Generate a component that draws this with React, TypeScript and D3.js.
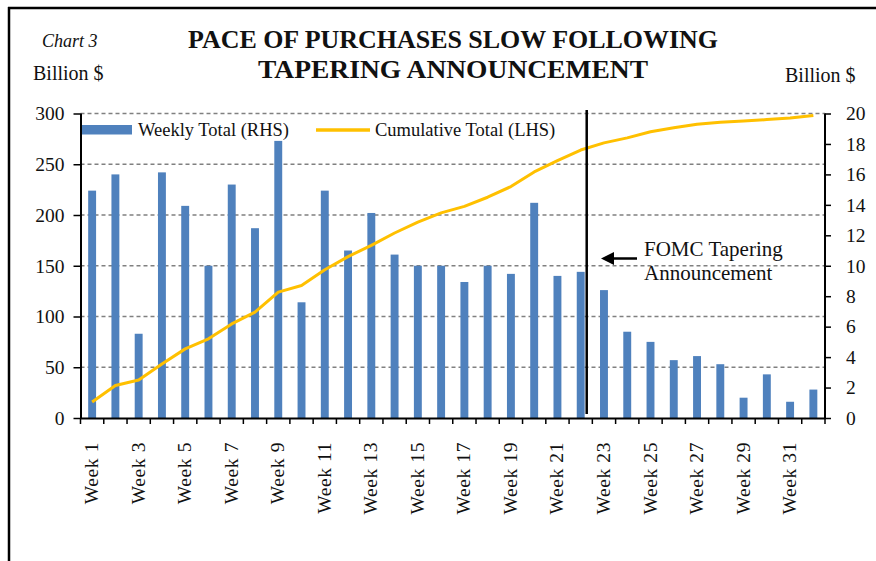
import React, { useEffect, useRef } from "react";
import * as d3 from "d3";

// weekly purchases (left axis 0-300), cumulative (right axis 0-20)
const weeks = d3.range(1, 33).map((i) => "Week " + i);
const weeklyTotal = [224, 240, 83, 242, 209, 150, 230, 187, 273, 114, 224, 165, 202, 161, 150, 150,
    134, 150, 142, 212, 140, 144, 126, 85, 75, 57, 61, 53, 20, 43, 16, 28];
const cumulativeTotal = [1.05, 2.13, 2.5, 3.55, 4.54, 5.2, 6.18, 6.95, 8.27, 8.7, 9.74, 10.6, 11.34, 12.15, 12.87, 13.47,
    13.9, 14.5, 15.2, 16.16, 16.9, 17.6, 18.07, 18.4, 18.8, 19.06, 19.3, 19.43, 19.5, 19.6, 19.7, 19.87];
const leftTicks = [0, 50, 100, 150, 200, 250, 300];
const rightTicks = [0, 2, 4, 6, 8, 10, 12, 14, 16, 18, 20];
const announcementWeek = "Week 22";

const FONT = "'Liberation Serif', 'Times New Roman', serif";

export default function App() {
    const ref = useRef<SVGSVGElement>(null);

    useEffect(() => {
        const svg = d3.select(ref.current);
        svg.selectAll("*").remove();

        const left = 80.5, right = 825, top = 113.5, bottom = 418;

        const x = d3.scaleBand().domain(weeks).range([left, right]).paddingInner(0.66).paddingOuter(0.33);
        const xb = d3.scaleBand().domain(weeks).range([left, right]);
        const yL = d3.scaleLinear().domain([0, 300]).range([bottom, top]);
        const yR = d3.scaleLinear().domain([0, 20]).range([bottom, top]);

        // frame lines
        svg.append("line").attr("x1", 8).attr("y1", 8).attr("x2", 876).attr("y2", 8)
            .style("stroke", "#000").style("stroke-width", 2.5);
        svg.append("line").attr("x1", 9).attr("y1", 7).attr("x2", 9).attr("y2", 561)
            .style("stroke", "#000").style("stroke-width", 2.5);

        // gridlines
        svg.selectAll(".grid")
            .data(leftTicks.filter((d) => d > 0))
            .enter()
            .append("line")
                .attr("x1", left).attr("x2", right)
                .attr("y1", (d) => yL(d)).attr("y2", (d) => yL(d))
                .style("stroke", "#808080")
                .style("stroke-width", 1.5)
                .style("stroke-dasharray", "4, 3");

        // bars
        svg.selectAll(".bar")
            .data(weeklyTotal)
            .enter()
            .append("rect")
                .attr("x", (d, i) => x(weeks[i])!)
                .attr("y", (d) => yL(d))
                .attr("width", x.bandwidth())
                .attr("height", (d) => bottom - yL(d))
                .style("fill", "#4f81bd");

        // cumulative line
        const line = d3.line<number>()
            .x((d, i) => xb(weeks[i])! + xb.bandwidth() / 2)
            .y((d) => yR(d));
        svg.append("path")
            .datum(cumulativeTotal)
            .attr("d", line)
            .style("fill", "none")
            .style("stroke", "#ffc000")
            .style("stroke-width", 3)
            .style("stroke-linejoin", "round");

        // axes
        const axL = svg.append("g").attr("transform", `translate(${left},0)`)
            .call(d3.axisLeft(yL).tickValues(leftTicks).tickSize(7).tickPadding(9));
        const axR = svg.append("g").attr("transform", `translate(${right},0)`)
            .call(d3.axisRight(yR).tickValues(rightTicks).tickSize(6).tickPadding(15));
        const axB = svg.append("g").attr("transform", `translate(0,${bottom})`)
            .call(d3.axisBottom(xb).tickValues([]).tickSize(0));
        // x tick marks at category boundaries
        svg.selectAll(".xtick")
            .data(d3.range(0, weeks.length + 1))
            .enter()
            .append("line")
                .attr("x1", (d) => left + d * xb.step()).attr("x2", (d) => left + d * xb.step())
                .attr("y1", bottom).attr("y2", bottom + 6)
                .style("stroke", "#000").style("stroke-width", 1.5);

        [axL, axR, axB].forEach((g) => {
            g.selectAll("path").style("stroke", "#000").style("stroke-width", 2);
            g.selectAll("line").style("stroke", "#000").style("stroke-width", 1.5);
            g.selectAll("text").style("font-family", FONT).style("font-size", "19.5px").style("fill", "#111");
        });
        axL.select(".domain").attr("d", `M0.5,${top}V${bottom}`);
        axR.select(".domain").attr("d", `M0,${top}V${bottom}`);

        // x labels (odd weeks)
        svg.selectAll(".xlab")
            .data(weeks.filter((d, i) => i % 2 === 0))
            .enter()
            .append("text")
                .attr("transform", (d) => `translate(${xb(d)! + xb.bandwidth() / 2 + 6},${bottom + 24}) rotate(-90)`)
                .attr("text-anchor", "end")
                .style("font-family", FONT)
                .style("font-size", "19.5px")
                .style("letter-spacing", "0.6px")
                .style("fill", "#111")
                .text((d) => d);

        // announcement marker
        const ax = xb(announcementWeek)! + xb.bandwidth() / 2 + 6;
        svg.append("line").attr("x1", ax).attr("x2", ax).attr("y1", 110).attr("y2", 414)
            .style("stroke", "#000").style("stroke-width", 2.5);
        svg.append("line").attr("x1", 637).attr("x2", 610).attr("y1", 258.5).attr("y2", 258.5)
            .style("stroke", "#000").style("stroke-width", 2.5);
        svg.append("path").attr("d", "M601,258.5 L614,252 L614,265 Z").style("fill", "#000");
        svg.append("text").attr("x", 644).attr("y", 256)
            .style("font-family", FONT).style("font-size", "21px").style("fill", "#111")
            .text("FOMC Tapering");
        svg.append("text").attr("x", 644).attr("y", 280)
            .style("font-family", FONT).style("font-size", "21px").style("fill", "#111")
            .text("Announcement");

        // legend
        svg.append("rect").attr("x", 82).attr("y", 125).attr("width", 50).attr("height", 9.5)
            .style("fill", "#4f81bd");
        svg.append("text").attr("x", 138).attr("y", 136)
            .style("font-family", FONT).style("font-size", "18.5px").style("fill", "#111")
            .text("Weekly Total (RHS)");
        svg.append("line").attr("x1", 316).attr("x2", 370).attr("y1", 130).attr("y2", 130)
            .style("stroke", "#ffc000").style("stroke-width", 3.5);
        svg.append("text").attr("x", 375).attr("y", 136)
            .style("font-family", FONT).style("font-size", "18.5px").style("fill", "#111")
            .text("Cumulative Total (LHS)");

        // titles
        svg.append("text").attr("x", 42).attr("y", 47)
            .style("font-family", FONT).style("font-size", "18px").style("font-style", "italic").style("fill", "#111")
            .text("Chart 3");
        svg.append("text").attr("x", 33).attr("y", 80)
            .style("font-family", FONT).style("font-size", "20px").style("fill", "#111")
            .text("Billion $");
        svg.append("text").attr("x", 785).attr("y", 82)
            .style("font-family", FONT).style("font-size", "20px").style("fill", "#111")
            .text("Billion $");
        svg.append("text").attr("x", 188).attr("y", 48)
            .attr("textLength", 530).attr("lengthAdjust", "spacingAndGlyphs")
            .style("font-family", FONT).style("font-size", "25px").style("font-weight", "bold").style("fill", "#111")
            .text("PACE OF PURCHASES SLOW FOLLOWING");
        svg.append("text").attr("x", 258).attr("y", 78)
            .attr("textLength", 390).attr("lengthAdjust", "spacingAndGlyphs")
            .style("font-family", FONT).style("font-size", "25px").style("font-weight", "bold").style("fill", "#111")
            .text("TAPERING ANNOUNCEMENT");
    }, []);

    return (
        <svg ref={ref} width={876} height={561}
            style={{ position: "absolute", left: 0, top: 0, background: "#fff" }}></svg>
    );
}
